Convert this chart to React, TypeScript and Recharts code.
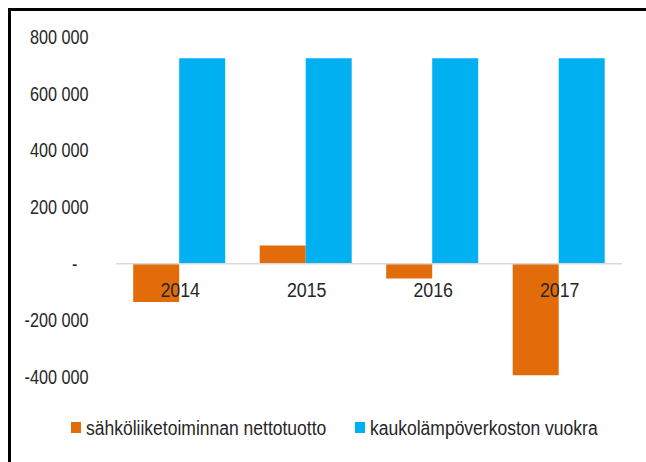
import React from 'react';
import { BarChart, Bar, XAxis, YAxis, ReferenceLine, Legend, LabelList } from 'recharts';

const years = ['2014', '2015', '2016', '2017'];
const sahko = [-135000, 64000, -52000, -394000];
const kaukolampo = [725000, 725000, 725000, 725000];
const yTicks = [800000, 600000, 400000, 200000, 0, -200000, -400000];

const SERIES_A = 'sähköliiketoiminnan nettotuotto';
const SERIES_B = 'kaukolämpöverkoston vuokra';
const ORANGE = '#E36C0A';
const BLUE = '#00B0F0';
const FONT = '"Liberation Sans", Arial, sans-serif';
const FS = 20;
const TXT = '#262626';

const data = years.map((y, i) => ({ year: y, a: sahko[i], b: kaukolampo[i] }));

const fmt = (v: number) => {
  if (v === 0) return '-';
  const s = Math.abs(v).toString().replace(/\B(?=(\d{3})+(?!\d))/g, ' ');
  return (v < 0 ? '-' : '') + s;
};

const YTick = (props: any) => {
  const { x, y, payload } = props;
  const v = payload.value;
  const tx = v === 0 ? x - 11 : x;
  return (
    <text x={0} y={0} dy="0.35em" textAnchor="end" fill={TXT}
      fontFamily={FONT} fontSize={FS} transform={`translate(${tx},${y}) scale(0.81,1)`}>
      {fmt(v)}
    </text>
  );
};

const CatLabel = (props: any) => {
  const { x, y, height, value } = props;
  const base = y + height;
  return (
    <text x={0} y={0} textAnchor="middle" fill={TXT} fontFamily={FONT} fontSize={FS}
      transform={`translate(${x + 1},${base + 33.2}) scale(0.89,1)`}>
      {value}
    </text>
  );
};

const legendText: React.CSSProperties = {
  position: 'absolute', top: 40, lineHeight: '22px', whiteSpace: 'nowrap',
  transform: 'scaleX(0.875)', transformOrigin: 'left center',
};

const LegendContent = () => (
  <div style={{ position: 'relative', height: 85, fontFamily: FONT, fontSize: FS, color: TXT }}>
    <span style={{ position: 'absolute', left: 60, top: 45, width: 10, height: 11, background: ORANGE }} />
    <span style={{ ...legendText, left: 75 }}>{SERIES_A}</span>
    <span style={{ position: 'absolute', left: 344, top: 45, width: 10, height: 11, background: BLUE }} />
    <span style={{ ...legendText, left: 359 }}>{SERIES_B}</span>
  </div>
);

export default function App() {
  return (
    <div style={{ position: 'absolute', left: 8, top: 8, width: 638, height: 454, borderLeft: '3px solid #000', borderTop: '3px solid #000', boxSizing: 'border-box', background: '#fff' }}>
      <BarChart width={635} height={451} data={data} margin={{ top: 26, right: 24, left: 0, bottom: 0 }}
        barCategoryGap="13.6%" barGap={0}>
        <XAxis dataKey="year" hide />
        <YAxis type="number" domain={[-400000, 800000]} ticks={yTicks} interval={0} width={105}
          axisLine={false} tickLine={false} tickSize={0} tickMargin={27.5} tick={<YTick />} />
        <ReferenceLine y={0} stroke="#D9D9D9" strokeWidth={1.5} />
        <Legend verticalAlign="bottom" height={85} content={<LegendContent />} />
        <Bar dataKey="a" name={SERIES_A} fill={ORANGE} isAnimationActive={false} />
        <Bar dataKey="b" name={SERIES_B} fill={BLUE} isAnimationActive={false}>
          <LabelList dataKey="year" content={<CatLabel />} />
        </Bar>
      </BarChart>
    </div>
  );
}
